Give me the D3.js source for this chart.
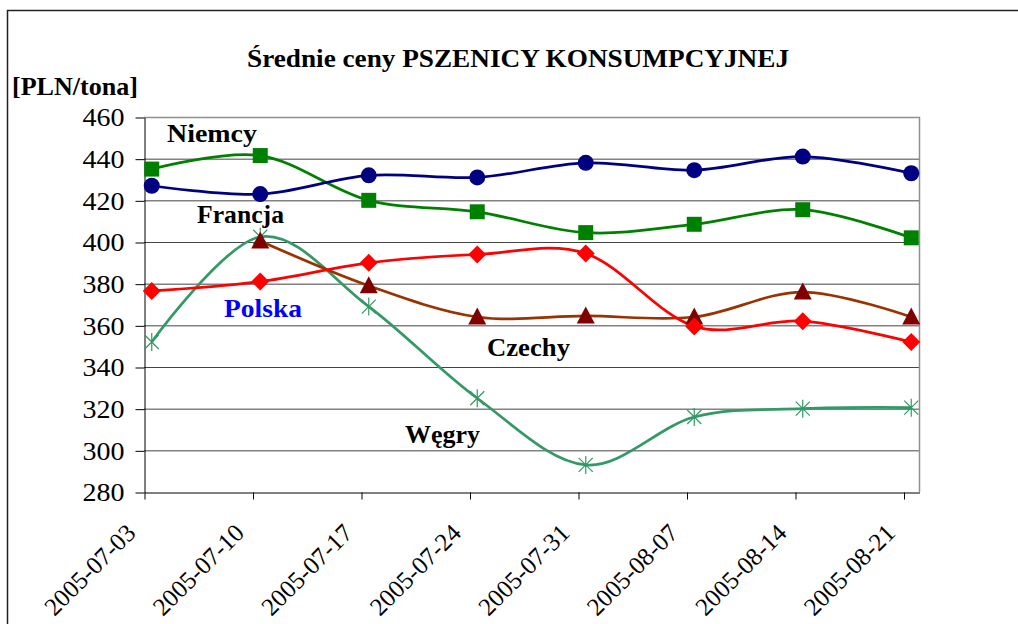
<!DOCTYPE html>
<html>
<head>
<meta charset="utf-8">
<script src="https://cdn.jsdelivr.net/npm/d3@7.9.0/dist/d3.min.js"></script>
<style>
  body { margin: 0; background: #fff; }
</style>
</head>
<body>
<svg id="vis"></svg>
<script>
const width = 1018;
const height = 624;
const serif = "'Liberation Serif', 'Times New Roman', serif";

// --- data ---
const dates = ["2005-07-03", "2005-07-10", "2005-07-17", "2005-07-24",
               "2005-07-31", "2005-08-07", "2005-08-14", "2005-08-21"];
const niemcy  = [427, 423, 432, 431, 438, 434.5, 441, 433];
const francja = [435, 441.5, 420, 414.5, 404.5, 408.5, 415.5, 402];
const polska  = [376.5, 381, 390, 394, 394.5, 359.5, 362, 352];
const czechy  = [null, 400.5, 379, 364, 364.5, 364, 376, 364];
const wegry   = [352, 402.5, 369, 325, 293, 316, 320, 320.5];
const yTicks  = [280, 300, 320, 340, 360, 380, 400, 420, 440, 460];

const series = [
    { name: "Węgry",   values: wegry,   line: "#339966", marker: "star" },
    { name: "Czechy",  values: czechy,  line: "#993300", fill: "#800000", marker: "triangle" },
    { name: "Polska",  values: polska,  line: "#ff0000", fill: "#ff0000", marker: "diamond" },
    { name: "Francja", values: francja, line: "#008000", fill: "#008000", marker: "square" },
    { name: "Niemcy",  values: niemcy,  line: "#000080", fill: "#000080", marker: "circle" }
];

// labels placed inside the plot
const labels = [
    { text: "Niemcy",  x: 167, y: 142, w: 90, color: "#000" },
    { text: "Francja", x: 197, y: 223, w: 87, color: "#000" },
    { text: "Polska",  x: 224, y: 317, w: 78, color: "#0000ff" },
    { text: "Czechy",  x: 487, y: 356, w: 83, color: "#000" },
    { text: "Węgry",   x: 405, y: 443, w: 75, color: "#000" }
];

const parse = d3.utcParse("%Y-%m-%d");
const day = 24 * 3600 * 1000;

const svg = d3.select("#vis")
    .attr("width", width)
    .attr("height", height);

// outer frame
svg.append("rect")
    .attr("x", 7.5).attr("y", 10.5)
    .attr("width", 1100).attr("height", 700)
    .attr("fill", "none")
    .attr("stroke", "#222")
    .attr("stroke-width", 1.5);

const x = d3.scaleUtc()
    .domain([parse("2005-07-03"), parse("2005-08-22")])
    .range([144, 919]);

const y = d3.scaleLinear()
    .domain([280, 460])
    .range([492, 117]);

// gridlines
svg.append("g")
    .selectAll("line")
    .data(yTicks.filter(d => d > 280 && d < 460))
    .join("line")
    .attr("x1", 144).attr("x2", 919)
    .attr("y1", d => y(d) + 0.5).attr("y2", d => y(d) + 0.5)
    .attr("stroke", "#444")
    .attr("stroke-width", 1);

// plot area border (top / right)
svg.append("path")
    .attr("d", `M144,${y(460) + 0.5}H919.5V${y(280)}`)
    .attr("fill", "none")
    .attr("stroke", "#909090")
    .attr("stroke-width", 1.5);

// axes
const yAxis = svg.append("g")
    .attr("transform", "translate(144.5,0.5)")
    .call(d3.axisLeft(y).tickValues(yTicks).tickSize(9).tickSizeOuter(0).tickPadding(11));

const xAxis = svg.append("g")
    .attr("transform", "translate(0.5,492.5)")
    .call(d3.axisBottom(x).tickValues(dates.map(parse)).tickSize(7).tickSizeOuter(0)
        .tickFormat(d3.utcFormat("%Y-%m-%d")));

svg.selectAll(".tick text")
    .style("font-family", serif)
    .attr("fill", "#000");

yAxis.selectAll("text")
    .style("font-size", "26px")
    .attr("textLength", 42)
    .attr("lengthAdjust", "spacingAndGlyphs");

xAxis.selectAll("text")
    .style("font-size", "25px")
    .attr("text-anchor", "end")
    .attr("dy", null)
    .attr("y", null)
    .attr("transform", "translate(-8,42) rotate(-45)");

svg.selectAll(".domain, .tick line").attr("stroke", "#000");

// lines
const px = (i) => x(new Date(+parse(dates[i]) + day / 2));

const line = d3.line()
    .defined(d => d != null)
    .x((d, i) => px(i))
    .y(d => y(d))
    .curve(d3.curveCatmullRom.alpha(0));

const layer = svg.append("g");

series.forEach(s => {
    layer.append("path")
        .attr("d", line(s.values))
        .attr("fill", "none")
        .attr("stroke", s.line)
        .attr("stroke-width", 2.75);
});

function markerPath(type) {
    if (type === "circle") return "M-8,0A8,8 0 1,0 8,0A8,8 0 1,0 -8,0Z";
    if (type === "square") return "M-7.5,-7.5H7.5V7.5H-7.5Z";
    if (type === "diamond") return "M0,-9L9,0L0,9L-9,0Z";
    if (type === "triangle") return "M0,-9.5L9,7.5L-9,7.5Z";
    return "M-7,-7L7,7M-7,7L7,-7M0,-9V9";
}

series.forEach(s => {
    layer.append("g")
        .selectAll("path")
        .data(s.values.map((v, i) => ({ v, i })).filter(d => d.v != null))
        .join("path")
        .attr("transform", d => `translate(${px(d.i)},${y(d.v)})`)
        .attr("d", markerPath(s.marker))
        .attr("fill", s.marker === "star" ? "none" : s.fill)
        .attr("stroke", s.marker === "star" ? s.line : "none")
        .attr("stroke-width", 1.2);
});

// series labels
svg.append("g")
    .selectAll("text")
    .data(labels)
    .join("text")
    .attr("x", d => d.x)
    .attr("y", d => d.y)
    .style("font-family", serif)
    .style("font-size", "25px")
    .style("font-weight", "bold")
    .attr("fill", d => d.color)
    .attr("textLength", d => d.w)
    .attr("lengthAdjust", "spacingAndGlyphs")
    .text(d => d.text);

// title and unit
svg.append("text")
    .attr("x", 247).attr("y", 67)
    .style("font-family", serif)
    .style("font-size", "25px")
    .style("font-weight", "bold")
    .attr("textLength", 542)
    .attr("lengthAdjust", "spacingAndGlyphs")
    .text("Średnie ceny PSZENICY KONSUMPCYJNEJ");

svg.append("text")
    .attr("x", 12).attr("y", 95)
    .style("font-family", serif)
    .style("font-size", "25px")
    .style("font-weight", "bold")
    .attr("textLength", 126)
    .attr("lengthAdjust", "spacingAndGlyphs")
    .text("[PLN/tona]");
</script>
</body>
</html>
